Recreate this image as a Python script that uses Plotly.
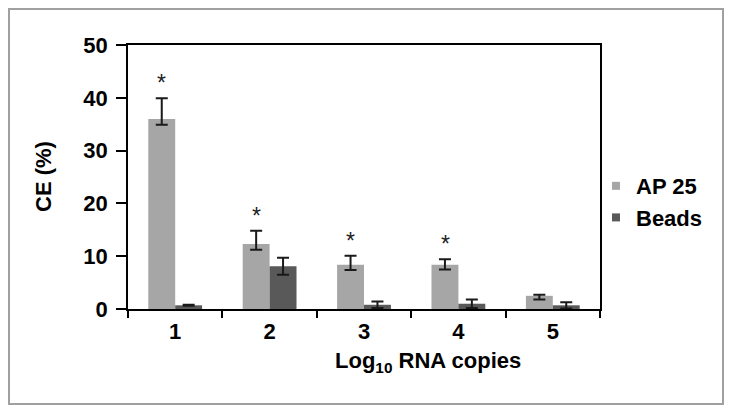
import plotly.graph_objects as go

categories = ["1", "2", "3", "4", "5"]
ap25 = [36.0, 12.3, 8.4, 8.4, 2.5]
ap25_err_plus = [3.9, 2.5, 1.7, 1.0, 0.2]
ap25_err_minus = [1.1, 1.1, 1.0, 0.9, 0.7]
beads = [0.7, 8.1, 0.8, 1.0, 0.7]
beads_err = [0.1, 1.6, 0.6, 0.8, 0.6]
stars = ["*", "*", "*", "*", ""]
series_names = ["AP 25", "Beads"]
series_colors = ["#A6A6A6", "#595959"]

# page has an 8px body margin; figure spans page x 8..724, y 8..405
W, H = 716, 397
L, R, T, B = 120, 124, 37, 96
pw, ph = W - L - R, H - T - B

font_family = "Liberation Sans, Arial, sans-serif"
FS = 22

fig = go.Figure()
fig.add_trace(go.Bar(
    x=categories, y=ap25, name=series_names[0], showlegend=False,
    marker=dict(color=series_colors[0], line=dict(width=0)),
    error_y=dict(type="data", array=ap25_err_plus, arrayminus=ap25_err_minus,
                 symmetric=False, color="#1a1a1a", thickness=2, width=6),
))
fig.add_trace(go.Bar(
    x=categories, y=beads, name=series_names[1], showlegend=False,
    marker=dict(color=series_colors[1], line=dict(width=0)),
    error_y=dict(type="data", array=beads_err, color="#1a1a1a", thickness=2, width=6),
))
# legend entries with small square swatches
for name, col in zip(series_names, series_colors):
    fig.add_trace(go.Scatter(
        x=[None], y=[None], mode="markers", name=name,
        marker=dict(symbol="square", size=8, color=col),
    ))

for i, s in enumerate(stars):
    if s:
        fig.add_annotation(
            x=i, xshift=-13.4, y=ap25[i] + ap25_err_plus[i], yanchor="middle", yshift=15,
            text=s, showarrow=False,
            font=dict(family=font_family, size=23, color="#222"),
        )

# axis titles
fig.add_annotation(
    xref="paper", yref="paper", x=(420 - L) / pw, y=(301 - 354) / ph,
    xanchor="center", yanchor="middle", showarrow=False,
    text="Log<sub>10</sub> RNA copies",
    font=dict(family=font_family, size=FS, color="black", weight="bold"),
)
fig.add_annotation(
    xref="paper", yref="paper", x=(35 - L) / pw, y=0.5,
    xanchor="center", yanchor="middle", showarrow=False, textangle=-90,
    text="CE (%)",
    font=dict(family=font_family, size=FS, color="black", weight="bold"),
)

# outer border
fig.add_shape(
    type="rect", xref="paper", yref="paper",
    x0=(1 - L) / pw, x1=(715 - L) / pw,
    y0=(301 - 396) / ph, y1=(301 - 1) / ph,
    line=dict(color="#A0A0A0", width=2), fillcolor="rgba(0,0,0,0)", layer="below",
)

fig.update_layout(
    width=W, height=H,
    margin=dict(l=L, r=R, t=T, b=B),
    paper_bgcolor="white", plot_bgcolor="white",
    barmode="group", bargap=0.43, bargroupgap=0,
    font=dict(family=font_family, size=FS, color="black"),
    showlegend=True,
    legend=dict(x=(588 - L) / pw, y=(301 - 194) / ph, xanchor="left", yanchor="middle",
                font=dict(family=font_family, size=FS, color="black", weight="bold"),
                bgcolor="rgba(0,0,0,0)", itemwidth=30),
    xaxis=dict(
        showline=True, linecolor="black", linewidth=1.5, mirror=True,
        ticks="outside", ticklen=7, tickcolor="black", tickwidth=1.5,
        tickson="boundaries", ticklabelstandoff=2,
        tickfont=dict(family=font_family, size=FS, color="black", weight="bold"),
        showgrid=False,
    ),
    yaxis=dict(
        range=[0, 50], tickvals=[0, 10, 20, 30, 40, 50],
        showline=True, linecolor="black", linewidth=1.5, mirror=True,
        ticks="outside", ticklen=10, tickcolor="black", tickwidth=1.5,
        ticklabelstandoff=4,
        tickfont=dict(family=font_family, size=FS, color="black", weight="bold"),
        showgrid=False, zeroline=False,
    ),
)

fig.write_html("out.html")
